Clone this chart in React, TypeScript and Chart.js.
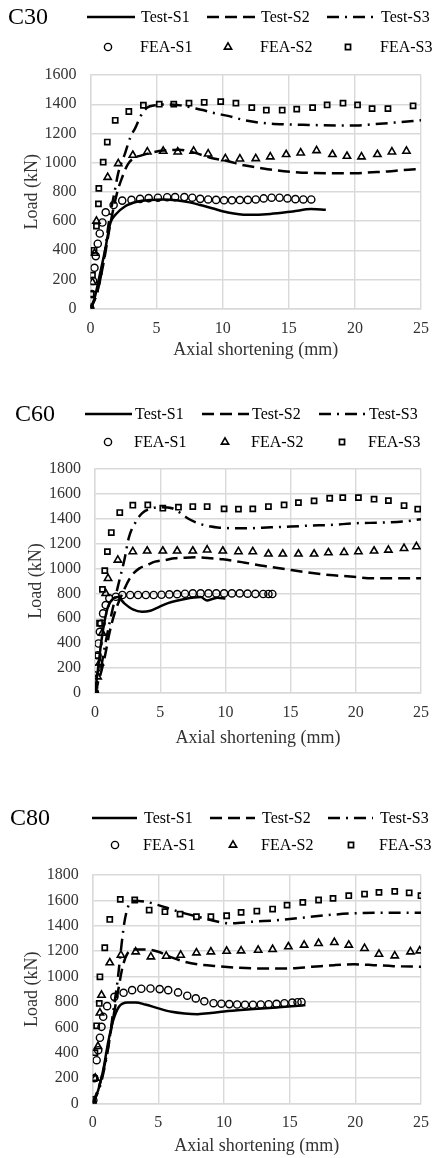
import React, { useEffect, useRef } from 'react';
import { Chart, registerables } from 'chart.js';

Chart.register(...registerables);

type Pt = [number, number];

// ---------- DATA ----------
const X_TICK_STEP = 5;
const X_MAX = 25;
const Y_TICK_STEP = 200;
const Y_MAX = [1600, 1800, 1800];
const PANEL_TITLES = ['C30', 'C60', 'C80'];
const TEST_LABELS = ['Test-S1', 'Test-S2', 'Test-S3'];
const FEA_LABELS = ['FEA-S1', 'FEA-S2', 'FEA-S3'];
const X_TITLE = 'Axial shortening (mm)';
const Y_TITLE = 'Load (kN)';

// C30
const c30TestS1: Pt[] = [[0,0],[0.3,70],[0.67,218],[1.1,400],[1.5,585],[1.9,645],[2.6,700],[3.5,732],[4.5,745],[5.5,748],[6.5,742],[7.5,728],[8.3,710],[9.2,688],[10.4,659],[11.9,643],[13.6,649],[15.3,666],[16.7,682],[17.8,677]];
const c30TestS2: Pt[] = [[0,0],[0.5,110],[1,320],[1.5,580],[2,790],[2.4,900],[2.8,985],[3.3,1033],[3.8,1048],[4.8,1072],[5.5,1083],[6.7,1088],[7.9,1067],[9.0,1035],[10.4,1010],[11.6,982],[12.8,964],[14,948],[15.3,936],[16.5,930],[18.9,928],[20.1,928],[21.3,934],[22.5,940],[23.7,950],[25,957]];
const c30TestS3: Pt[] = [[0,0],[0.5,110],[1,330],[1.4,600],[1.8,790],[2.1,930],[2.6,1060],[3,1170],[3.4,1240],[3.8,1320],[4.3,1377],[4.9,1393],[5.8,1398],[6.8,1392],[7.9,1372],[8.5,1360],[9.4,1338],[10.4,1320],[11.6,1292],[12.8,1274],[14.8,1262],[16.5,1258],[18.9,1254],[20.1,1255],[21.3,1262],[23,1274],[24.4,1285],[25,1290]];
const c30FeaS1: Pt[] = [[0,0],[0.1,100],[0.2,190],[0.3,280],[0.4,360],[0.55,445],[0.7,515],[0.9,590],[1.15,660],[1.75,710],[2.4,740],[3.1,745],[3.75,752],[4.4,757],[5.1,760],[5.8,763],[6.4,764],[7.1,764],[7.7,760],[8.3,752],[8.9,748],[9.5,745],[10.1,742],[10.7,742],[11.3,744],[11.9,745],[12.5,748],[13.1,755],[13.7,760],[14.3,760],[14.9,755],[15.5,750],[16.1,748],[16.7,748]];
const c30FeaS2: Pt[] = [[0,0],[0.15,180],[0.3,380],[0.45,600],[1.3,900],[2.1,994],[3.2,1051],[4.3,1074],[5.5,1079],[6.6,1074],[7.8,1079],[8.9,1060],[10.2,1028],[11.3,1026],[12.5,1028],[13.6,1040],[14.8,1056],[15.9,1067],[17.1,1083],[18.3,1056],[19.4,1044],[20.5,1040],[21.7,1056],[22.8,1074],[23.9,1079]];
const c30FeaS3: Pt[] = [[0,0],[0.05,100],[0.15,230],[0.27,400],[0.45,565],[0.6,718],[0.63,824],[0.96,1003],[1.27,1141],[1.87,1290],[2.9,1350],[4.0,1393],[5.2,1400],[6.3,1400],[7.45,1407],[8.6,1413],[9.85,1418],[11,1407],[12.2,1377],[13.3,1359],[14.5,1359],[15.6,1366],[16.8,1377],[17.9,1395],[19.1,1407],[20.2,1395],[21.3,1370],[22.5,1370],[24.4,1389]];

// C60
const c60TestS1: Pt[] = [[0,0],[0.25,209],[0.5,424],[0.75,585],[1.0,693],[1.4,760],[1.75,770],[2.25,720],[2.9,671],[3.6,652],[4.25,660],[4.9,690],[5.6,722],[6.9,755],[8.1,770],[8.6,742],[9.0,755],[9.4,765],[10,758]];
const c60TestS2: Pt[] = [[0,0],[0.1,48],[0.37,129],[0.75,290],[1.1,478],[1.5,640],[2.1,800],[2.75,934],[3.4,1001],[4.0,1028],[4.6,1055],[5.4,1068],[6.1,1082],[6.9,1087],[7.9,1090],[8.9,1083],[9.8,1074],[11.5,1047],[13,1020],[14.7,993],[16.5,966],[18,948],[19.8,934],[21.3,921],[23,921],[25,921]];
const c60TestS3: Pt[] = [[0,0],[0.37,150],[0.8,400],[1.3,650],[1.75,854],[2.25,1068],[2.6,1250],[3.1,1370],[3.6,1444],[4.4,1485],[5.1,1493],[5.9,1485],[6.5,1450],[7.1,1404],[7.9,1364],[8.9,1337],[9.4,1329],[11.5,1323],[13.5,1331],[15,1337],[16.5,1345],[18,1350],[20,1364],[22,1369],[23.6,1377],[25,1396]];
const c60FeaS1: Pt[] = [[0,0],[0.12,196],[0.2,303],[0.27,397],[0.37,491],[0.5,558],[0.62,639],[0.82,706],[1.1,760],[1.6,773],[2.1,787],[2.7,787],[3.3,787],[3.9,787],[4.5,787],[5.1,789],[5.7,792],[6.3,794],[6.9,797],[7.5,800],[8.1,800],[8.7,800],[9.3,800],[9.9,800],[10.5,800],[11.1,800],[11.7,798],[12.3,796],[12.9,795],[13.3,795],[13.6,795]];
const c60FeaS2: Pt[] = [[0,0],[0.2,130],[0.37,242],[0.55,480],[0.82,800],[1.0,921],[1.75,1068],[2.9,1136],[4.0,1141],[5.2,1141],[6.3,1141],[7.5,1141],[8.6,1150],[9.8,1141],[11,1136],[12.1,1136],[13.3,1117],[14.4,1117],[15.6,1117],[16.8,1117],[17.9,1127],[19.1,1130],[20.2,1136],[21.4,1141],[22.5,1149],[23.7,1162],[24.65,1176]];
const c60FeaS3: Pt[] = [[0,0],[0,60],[0.2,300],[0.35,560],[0.57,832],[0.75,983],[0.95,1136],[1.25,1289],[1.9,1450],[2.9,1509],[4.05,1511],[5.2,1485],[6.4,1493],[7.5,1498],[8.6,1498],[9.9,1479],[11,1477],[12.1,1479],[13.3,1498],[14.5,1511],[15.6,1530],[16.8,1544],[18,1565],[19,1570],[20.2,1570],[21.4,1557],[22.5,1546],[23.7,1506],[24.75,1477]];

// C80
const c80TestS1: Pt[] = [[0,0],[0.42,105],[0.8,263],[1.16,473],[1.53,644],[2.0,762],[2.65,796],[3.27,796],[4.0,780],[5.0,749],[6.0,722],[7.0,709],[8.0,704],[9.0,712],[10,725],[12,742],[14,757],[15.4,768],[16.2,775]];
const c80TestS2: Pt[] = [[0,0],[0.55,158],[1.04,368],[1.5,640],[1.9,867],[2.28,1077],[2.65,1182],[3.27,1214],[4.0,1214],[5.0,1195],[6.0,1151],[7.0,1117],[8.0,1096],[9.4,1082],[11.2,1069],[12.9,1064],[14.9,1064],[16.7,1077],[18.4,1090],[19.9,1096],[21.4,1090],[22.9,1082],[25,1077]];
const c80TestS3: Pt[] = [[0,0],[0.6,150],[1.2,450],[1.53,700],[1.9,972],[2.15,1209],[2.4,1419],[2.65,1537],[3.0,1597],[4.0,1590],[5.0,1563],[6.0,1529],[7.0,1498],[8.0,1471],[9.2,1440],[10.45,1419],[12.2,1432],[14.2,1445],[16.2,1466],[17.9,1484],[19.9,1498],[21.9,1503],[23.9,1503],[25,1503]];
const c80FeaS1: Pt[] = [[0,0],[0.05,26],[0.12,200],[0.3,341],[0.42,420],[0.55,518],[0.67,604],[0.8,683],[1.1,767],[1.65,840],[2.35,872],[3.0,893],[3.7,904],[4.4,906],[5.1,901],[5.75,893],[6.5,875],[7.2,849],[7.85,828],[8.5,805],[9.2,790],[9.8,786],[10.4,783],[11.0,780],[11.6,778],[12.2,778],[12.8,780],[13.4,782],[14.0,785],[14.6,790],[15.2,795],[15.6,798],[15.9,800]];
const c80FeaS2: Pt[] = [[0,13],[0.2,200],[0.4,450],[0.55,714],[0.67,854],[1.3,1109],[2.15,1169],[3.27,1195],[4.43,1156],[5.6,1161],[6.7,1169],[7.9,1187],[9.0,1195],[10.2,1200],[11.3,1203],[12.6,1208],[13.7,1214],[14.9,1235],[16.1,1248],[17.2,1261],[18.4,1269],[19.5,1248],[20.7,1222],[21.8,1177],[23.0,1164],[24.2,1195],[24.9,1203]];
const c80FeaS3: Pt[] = [[0,0],[0.12,197],[0.17,400],[0.3,612],[0.5,788],[0.55,998],[0.92,1227],[1.3,1450],[2.1,1608],[3.2,1603],[4.3,1524],[5.5,1511],[6.65,1492],[7.9,1471],[9.0,1471],[10.2,1479],[11.3,1506],[12.5,1516],[13.7,1532],[14.8,1563],[16.0,1584],[17.2,1603],[18.3,1616],[19.5,1637],[20.7,1650],[21.8,1663],[23.0,1671],[24.1,1660],[25,1637]];

const TEST_SERIES: Pt[][][] = [
  [c30TestS1, c30TestS2, c30TestS3],
  [c60TestS1, c60TestS2, c60TestS3],
  [c80TestS1, c80TestS2, c80TestS3],
];
const FEA_SERIES: Pt[][][] = [
  [c30FeaS1, c30FeaS2, c30FeaS3],
  [c60FeaS1, c60FeaS2, c60FeaS3],
  [c80FeaS1, c80FeaS2, c80FeaS3],
];

// ---------- STYLE / LAYOUT ----------
const FONT = '"Liberation Serif", "Times New Roman", serif';
const GRID = '#d9d9d9';
const TEXT = '#333333';
const DASHES: number[][] = [[], [12, 6], [12, 6, 2, 6]];
const MARKERS = ['circle', 'triangle', 'rect'];
const MARK_R = [3.6, 4.2, 3.6];
const MARK_BW = [1.4, 1.6, 1.7];

interface Layout {
  canvasTop: number; height: number;
  plotTop: number; plotBottom: number; plotLeft: number; plotRight: number;
  xTitleY: number; yTitleX: number;
  row1: number; row2: number; titleX: number;
  keyLeft: number; keyPitch: number; keyW: number; textOff: number; markOff: number;
}

const LAYOUTS: Layout[] = [
  { canvasTop: 0, height: 361, plotTop: 75, plotBottom: 308.5, plotLeft: 90.5, plotRight: 432, xTitleY: 350, yTitleX: 32,
    row1: 17, row2: 47, titleX: 8, keyLeft: 87, keyPitch: 120, keyW: 48, textOff: 54, markOff: 21 },
  { canvasTop: 385, height: 364, plotTop: 469, plotBottom: 692.7, plotLeft: 95, plotRight: 424, xTitleY: 738, yTitleX: 36,
    row1: 414, row2: 442, titleX: 15, keyLeft: 85, keyPitch: 117, keyW: 47, textOff: 50, markOff: 23 },
  { canvasTop: 790, height: 367, plotTop: 875, plotBottom: 1103.3, plotLeft: 92.7, plotRight: 428, xTitleY: 1146, yTitleX: 32,
    row1: 818, row2: 845, titleX: 10, keyLeft: 92, keyPitch: 118, keyW: 45, textOff: 52, markOff: 23 },
];

function drawMarker(ctx: CanvasRenderingContext2D, style: string, r: number, x: number, y: number) {
  ctx.beginPath();
  if (style === 'circle') {
    ctx.arc(x, y, r, 0, Math.PI * 2);
  } else if (style === 'triangle') {
    for (let k = 0; k < 3; k++) {
      const a = (k * 2 * Math.PI) / 3;
      const px = x + Math.sin(a) * r;
      const py = y - Math.cos(a) * r;
      if (k === 0) ctx.moveTo(px, py); else ctx.lineTo(px, py);
    }
    ctx.closePath();
  } else {
    const s = Math.SQRT1_2 * r;
    ctx.rect(x - s, y - s, 2 * s, 2 * s);
  }
  ctx.stroke();
}

function keyPlugin(idx: number) {
  const L = LAYOUTS[idx];
  return {
    id: 'panelKey' + idx,
    afterDraw(chart: any) {
      const ctx: CanvasRenderingContext2D = chart.ctx;
      const r1 = L.row1 - L.canvasTop;
      const r2 = L.row2 - L.canvasTop;
      ctx.save();
      ctx.fillStyle = '#000';
      ctx.strokeStyle = '#000';
      ctx.textAlign = 'left';
      ctx.textBaseline = 'middle';
      ctx.font = `24px ${FONT}`;
      ctx.fillText(PANEL_TITLES[idx], L.titleX, r1 + 1);
      ctx.font = `16px ${FONT}`;
      const ds = chart.data.datasets;
      for (let i = 0; i < 3; i++) {
        const x0 = L.keyLeft + i * L.keyPitch;
        ctx.lineWidth = 2.5;
        ctx.setLineDash(DASHES[i]);
        ctx.beginPath();
        ctx.moveTo(x0, r1);
        ctx.lineTo(x0 + L.keyW, r1);
        ctx.stroke();
        ctx.setLineDash([]);
        ctx.fillText(ds[i].label, x0 + L.textOff, r1 + 1);
        ctx.lineWidth = MARK_BW[i];
        drawMarker(ctx, MARKERS[i], MARK_R[i], x0 + L.markOff, r2);
        ctx.fillText(ds[3 + i].label, x0 + L.textOff - 1, r2 + 1);
      }
      ctx.restore();
    },
  };
}

const toXY = (arr: Pt[]) => arr.map(([x, y]) => ({ x, y }));

function Panel({ idx }: { idx: number }) {
  const ref = useRef<HTMLCanvasElement | null>(null);
  useEffect(() => {
    const L = LAYOUTS[idx];
    const canvas = ref.current;
    if (!canvas) return;
    const datasets: any[] = [];
    TEST_SERIES[idx].forEach((s, i) => {
      datasets.push({
        label: TEST_LABELS[i],
        data: toXY(s),
        showLine: true,
        borderColor: '#000',
        backgroundColor: '#000',
        borderWidth: 2.5,
        borderDash: DASHES[i],
        pointRadius: 0,
        pointHoverRadius: 0,
        cubicInterpolationMode: 'monotone',
        fill: false,
        order: 2,
      });
    });
    FEA_SERIES[idx].forEach((s, i) => {
      datasets.push({
        label: FEA_LABELS[i],
        data: toXY(s),
        showLine: false,
        pointStyle: MARKERS[i],
        pointRadius: MARK_R[i],
        pointBorderWidth: MARK_BW[i],
        pointBorderColor: '#000',
        pointBackgroundColor: 'rgba(0,0,0,0)',
        borderColor: '#000',
        order: 1,
      });
    });
    const xAxisH = L.xTitleY - L.plotBottom + 10.8;
    const font = { family: FONT, size: 16 };
    const plain = (v: any) => String(v);
    const chart = new Chart(canvas, {
      type: 'scatter',
      data: { datasets },
      options: {
        animation: false,
        responsive: false,
        devicePixelRatio: 1,
        events: [],
        layout: { padding: { top: L.plotTop - L.canvasTop, right: 439 - L.plotRight, left: 0, bottom: 0 } },
        plugins: { legend: { display: false }, tooltip: { enabled: false }, title: { display: false } },
        scales: {
          x: {
            type: 'linear',
            min: 0,
            max: X_MAX,
            ticks: { stepSize: X_TICK_STEP, font, color: TEXT, padding: 10, callback: plain },
            grid: { color: GRID, lineWidth: 1.4, drawTicks: false },
            border: { color: GRID, width: 1.4 },
            title: { display: true, text: X_TITLE, color: TEXT, font: { family: FONT, size: 18 }, padding: { top: 0, bottom: 0 } },
            afterFit: (s: any) => { s.height = xAxisH; },
          },
          y: {
            type: 'linear',
            min: 0,
            max: Y_MAX[idx],
            ticks: { stepSize: Y_TICK_STEP, font, color: TEXT, padding: 14, callback: plain },
            grid: { color: GRID, lineWidth: 1.4, drawTicks: false },
            border: { color: GRID, width: 1.4 },
            title: { display: true, text: Y_TITLE, color: TEXT, font: { family: FONT, size: 18 }, padding: { top: L.yTitleX - 10.8, bottom: 0 } },
            afterFit: (s: any) => { s.width = L.plotLeft; },
          },
        },
      } as any,
      plugins: [keyPlugin(idx)],
    });
    return () => chart.destroy();
  }, [idx]);
  const L = LAYOUTS[idx];
  return (
    <canvas
      ref={ref}
      width={439}
      height={L.height}
      style={{ position: 'absolute', left: 0, top: L.canvasTop, width: 439, height: L.height }}
    />
  );
}

export default function App() {
  return (
    <div style={{ position: 'absolute', left: 0, top: 0, width: 439, height: 1158, overflow: 'hidden', background: '#fff' }}>
      <Panel idx={0} />
      <Panel idx={1} />
      <Panel idx={2} />
    </div>
  );
}
